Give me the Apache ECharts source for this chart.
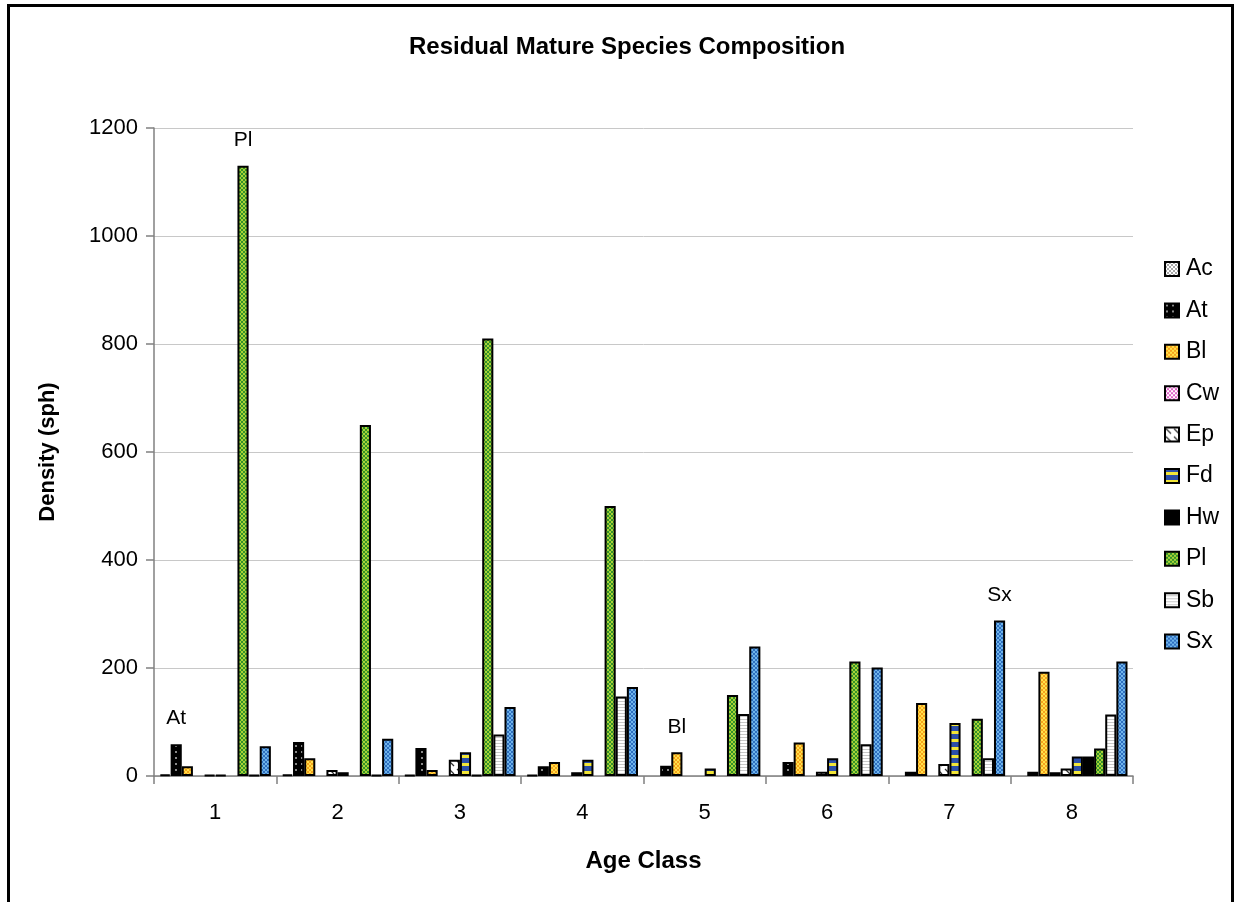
<!DOCTYPE html>
<html>
<head>
<meta charset="utf-8">
<script src="https://cdn.jsdelivr.net/npm/echarts@6/dist/echarts.min.js"></script>
<style>
html,body{margin:0;padding:0;background:#fff;}
#chart{width:1235px;height:902px;}
</style>
</head>
<body>
<div id="chart"></div>
<script>
// ---- data ----
const categories = ['1', '2', '3', '4', '5', '6', '7', '8'];
const speciesNames = ['Ac', 'At', 'Bl', 'Cw', 'Ep', 'Fd', 'Hw', 'Pl', 'Sb', 'Sx'];
const Ac = [3, 3, 2, 2, 0, 0, 0, 0];
const At = [59, 63, 52, 18, 19, 26, 8, 8];
const Bl = [18, 33, 11, 26, 44, 62, 135, 193];
const Cw = [0, 0, 0, 0, 0, 0, 0, 7];
const Ep = [2, 11, 30, 7, 0, 8, 22, 14];
const Fd = [2, 7, 44, 30, 14, 33, 98, 36];
const Hw = [0, 0, 2, 0, 0, 0, 0, 36];
const Pl = [1130, 650, 810, 500, 150, 212, 106, 51];
const Sb = [2, 2, 77, 147, 115, 59, 33, 114];
const Sx = [55, 69, 128, 165, 240, 201, 288, 212];
const seriesValues = [Ac, At, Bl, Cw, Ep, Fd, Hw, Pl, Sb, Sx];
// annotations: [species, category index]
const annotations = [['At', 0], ['Pl', 0], ['Bl', 4], ['Sx', 6]];
const yTicks = [0, 200, 400, 600, 800, 1000, 1200];

// ---- patterns ----
function tile(w, h, draw) {
  const c = document.createElement('canvas');
  c.width = w; c.height = h;
  const g = c.getContext('2d');
  draw(g, w, h);
  return { image: c, repeat: 'repeat' };
}
function diamond(bg, fg) {
  return tile(4, 4, (g) => {
    g.fillStyle = bg; g.fillRect(0,0,4,4);
    g.fillStyle = fg; g.fillRect(1,0,2,1); g.fillRect(0,1,1,2); g.fillRect(3,1,1,2); g.fillRect(1,3,2,1);
  });
}
const patterns = {
  Ac: tile(4, 4, (g) => { g.fillStyle = '#ffffff'; g.fillRect(0,0,4,4); g.fillStyle = '#a8a8a8'; g.fillRect(0,0,2,2); g.fillRect(2,2,2,2); }),
  At: tile(6, 6, (g) => { g.fillStyle = '#000'; g.fillRect(0,0,6,6); g.fillStyle = '#8a8a8a'; g.fillRect(1,1,2,2); }),
  Bl: diamond('#f7a21e', '#ffe24a'),
  Cw: tile(4, 4, (g) => { g.fillStyle = '#ffffff'; g.fillRect(0,0,4,4); g.fillStyle = '#e060c8'; g.fillRect(0,0,2,2); g.fillRect(2,2,2,2); }),
  Ep: tile(8, 8, (g) => { g.fillStyle = '#ffffff'; g.fillRect(0,0,8,8); g.strokeStyle = '#333'; g.lineWidth = 1.2; g.beginPath(); g.moveTo(1,1); g.lineTo(6,6); g.stroke(); }),
  Fd: tile(4, 8, (g) => { g.fillStyle = '#2c4fa8'; g.fillRect(0,0,4,8); g.fillStyle = '#f2e638'; g.fillRect(0,3,4,3); }),
  Hw: '#000000',
  Pl: diamond('#34922a', '#a8d236'),
  Sb: tile(4, 3, (g) => { g.fillStyle = '#ffffff'; g.fillRect(0,0,4,3); g.fillStyle = '#c8c8c8'; g.fillRect(0,2,4,1); }),
  Sx: diamond('#2f6fc0', '#6fb4ea')
};

const FONT = 'Liberation Sans, Arial, sans-serif';

const series = speciesNames.map((name, si) => ({
  name: name,
  type: 'bar',
  barGap: '0%',
  barCategoryGap: '9%',
  itemStyle: { color: patterns[name], borderColor: '#000', borderWidth: 2 },
  emphasis: { disabled: true },
  data: seriesValues[si].map((v, ci) => {
    const ann = annotations.find(a => a[0] === name && a[1] === ci);
    const val = v === 0 ? null : v;
    if (ann) {
      return { value: val, label: { show: true, position: 'top', distance: 15, formatter: name,
        color: '#000', fontSize: 21, fontFamily: FONT } };
    }
    return val;
  })
}));

const chart = echarts.init(document.getElementById('chart'), null, { renderer: 'canvas' });
chart.setOption({
  animation: false,
  backgroundColor: '#fff',
  title: {
    text: 'Residual Mature Species Composition',
    left: 622, top: 30, textAlign: 'center',
    textStyle: { fontFamily: FONT, fontWeight: 'bold', fontSize: 24, color: '#000' }
  },
  graphic: [{
    type: 'rect', silent: true, z: 100,
    shape: { x: 8.5, y: 5.5, width: 1224, height: 1000 },
    style: { fill: 'none', stroke: '#000', lineWidth: 3 }
  }],
  legend: {
    orient: 'vertical', left: 1159, top: 252,
    itemWidth: 14, itemHeight: 14, itemGap: 17.4,
    icon: 'rect',
    textStyle: { fontFamily: FONT, fontSize: 23, color: '#000', lineHeight: 24, padding: [0, 0, 0, 2] },
    data: speciesNames
  },
  grid: { left: 154, top: 128, right: 102, bottom: 126 },
  xAxis: {
    type: 'category', data: categories,
    name: 'Age Class', nameLocation: 'middle', nameGap: 73,
    nameTextStyle: { fontFamily: FONT, fontWeight: 'bold', fontSize: 24, color: '#000' },
    axisLine: { lineStyle: { color: '#808080', width: 1.5 } },
    axisTick: { show: true, length: 8, lineStyle: { color: '#808080', width: 1.5 } },
    axisLabel: { fontFamily: FONT, fontSize: 22, color: '#000', margin: 26 },
    splitLine: { show: false }
  },
  yAxis: {
    type: 'value', min: yTicks[0], max: yTicks[yTicks.length - 1], interval: yTicks[1] - yTicks[0],
    name: 'Density (sph)', nameLocation: 'middle', nameGap: 95,
    nameTextStyle: { fontFamily: FONT, fontWeight: 'bold', fontSize: 22, color: '#000' },
    axisLine: { show: true, lineStyle: { color: '#808080', width: 1.5 } },
    axisTick: { show: true, length: 8, lineStyle: { color: '#808080', width: 1.5 } },
    axisLabel: { fontFamily: FONT, fontSize: 22, color: '#000', margin: 16, formatter: (v) => String(v) },
    splitLine: { show: true, lineStyle: { color: '#c8c8c8', width: 1 } }
  },
  series: series
});
</script>
</body>
</html>
